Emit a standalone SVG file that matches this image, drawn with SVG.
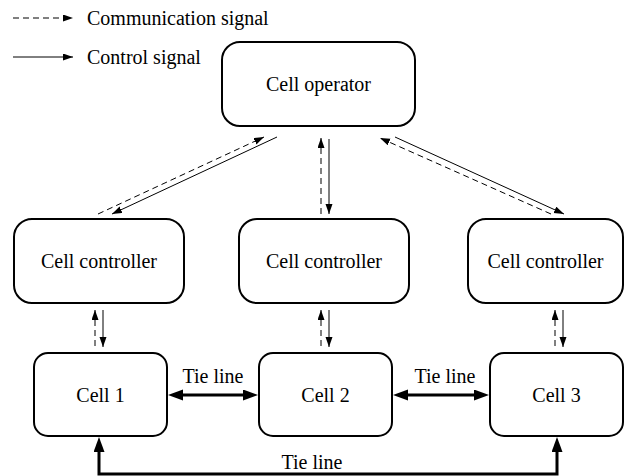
<svg xmlns="http://www.w3.org/2000/svg" width="625" height="476" viewBox="0 0 625 476">
<style>
.box{fill:#fff;stroke:#000;stroke-width:2}
.sig{fill:none;stroke:#000;stroke-width:1;marker-end:url(#a)}
.dash{stroke-dasharray:6,4}
.tie{fill:none;stroke:#000;stroke-width:3;marker-start:url(#b);marker-end:url(#b)}
</style>
<defs>
<marker id="a" markerUnits="userSpaceOnUse" markerWidth="10" markerHeight="8" refX="10" refY="3.5" orient="auto"><path d="M0,0 L10,3.5 L0,7 z" fill="#000"/></marker>
<marker id="b" markerUnits="userSpaceOnUse" markerWidth="16" markerHeight="12" refX="6" refY="5.5" orient="auto-start-reverse"><path d="M0,0 L15,5.5 L0,11 z" fill="#000"/></marker>
</defs>
<g font-family="Liberation Serif, DejaVu Serif, serif" font-size="20" fill="#000">
<g id="legend">
<line class="sig dash" x1="13" y1="18" x2="73" y2="18"/>
<text x="87" y="25">Communication signal</text>
<line class="sig" x1="13" y1="57" x2="73" y2="57"/>
<text x="87" y="64">Control signal</text>
</g>
<g text-anchor="middle">
<g id="operator"><rect class="box" x="222" y="42" width="193" height="84" rx="18"/><text x="318.5" y="91">Cell operator</text></g>
<g id="ctrl1"><rect class="box" x="14" y="219" width="170" height="84" rx="18"/><text x="99" y="268">Cell controller</text></g>
<g id="ctrl2"><rect class="box" x="239" y="219" width="170" height="84" rx="18"/><text x="324" y="268">Cell controller</text></g>
<g id="ctrl3"><rect class="box" x="468" y="219" width="155" height="84" rx="18"/><text x="545.5" y="268">Cell controller</text></g>
<g id="cell1"><rect class="box" x="34" y="353" width="133" height="83" rx="14"/><text x="100.5" y="402">Cell 1</text></g>
<g id="cell2"><rect class="box" x="259" y="353" width="133" height="83" rx="14"/><text x="325.5" y="402">Cell 2</text></g>
<g id="cell3"><rect class="box" x="490" y="353" width="133" height="83" rx="14"/><text x="556.5" y="402">Cell 3</text></g>
<g id="connectors">
<line class="sig dash" x1="98" y1="214" x2="264" y2="137"/>
<line class="sig" x1="277" y1="137" x2="112" y2="214"/>
<line class="sig dash" x1="321" y1="214" x2="321" y2="138"/>
<line class="sig" x1="329" y1="139" x2="329" y2="214"/>
<line class="sig" x1="395" y1="137" x2="564" y2="214"/>
<line class="sig dash" x1="551" y1="214" x2="380" y2="138"/>
<line class="sig dash" x1="95" y1="346" x2="95" y2="310"/>
<line class="sig" x1="103" y1="310" x2="103" y2="347"/>
<line class="sig dash" x1="321" y1="346" x2="321" y2="310"/>
<line class="sig" x1="329" y1="310" x2="329" y2="347"/>
<line class="sig dash" x1="555" y1="346" x2="555" y2="310"/>
<line class="sig" x1="563" y1="310" x2="563" y2="347"/>
<path class="tie" d="M177,395 H249"/>
<path class="tie" d="M402,395 H480"/>
<path class="tie" d="M99,446 V474 H557 V446"/>
<text x="213" y="383">Tie line</text>
<text x="445" y="383">Tie line</text>
<text x="312" y="469">Tie line</text>
</g>
</g>
</g>
</svg>
